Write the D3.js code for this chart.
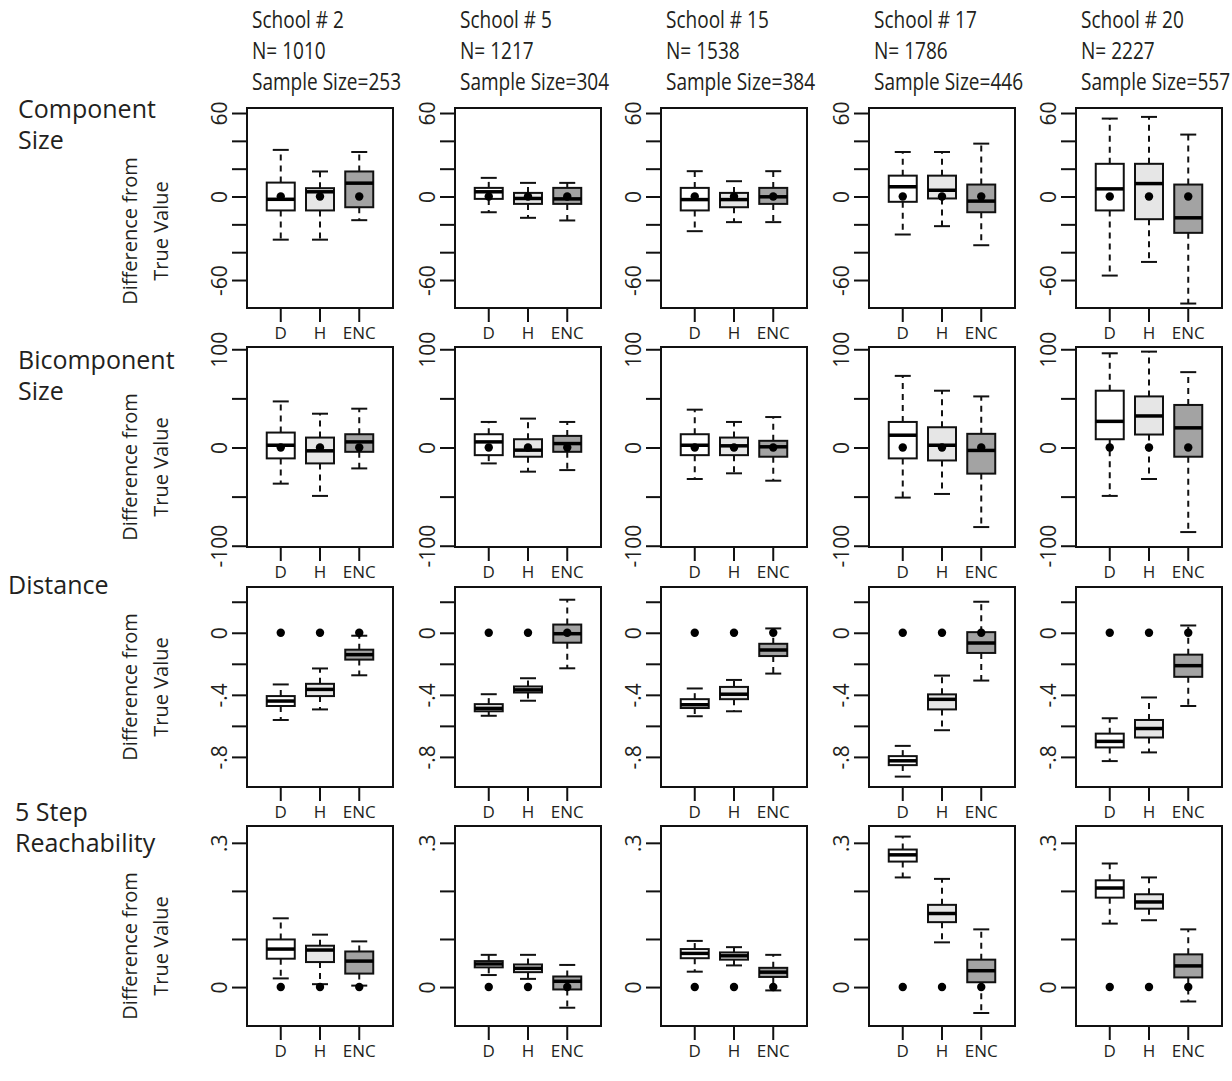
<!DOCTYPE html>
<html lang="en">
  <head>
    <script src="https://d3js.org/d3.v7.min.js"></script>
    <style>
      body { margin: 0; background: #fff; }
      .hdr { font-family: "Open Sans", sans-serif; font-size: 23.5px; fill: #231f20; }
      .rowlab { font-family: "Open Sans", sans-serif; font-size: 25px; fill: #231f20; }
      .ytitle { font-family: "Open Sans", sans-serif; font-size: 20px; fill: #231f20; }
      .xlab { font-family: "Open Sans", sans-serif; font-size: 17px; fill: #231f20; }
    </style>
  </head>
  <body>
    <svg width="1232" height="1081"></svg>
    <script>
      // column headers
      var schools = ["School # 2", "School # 5", "School # 15", "School # 17", "School # 20"];
      var popN = [1010, 1217, 1538, 1786, 2227];
      var sampleSizes = [253, 304, 384, 446, 557];
      var methods = ["D", "H", "ENC"];
      var rowLabels = [["Component", "Size"], ["Bicomponent", "Size"], ["Distance"], ["5 Step", "Reachability"]];

      // box stats per school, per method: [low whisker, q1, median, q3, high whisker]
      var compSize = [
        [[-31, -10, -2, 10, 33.5], [-31, -10, 3.4, 6, 18], [-17, -7.7, 9.6, 18, 32]],
        [[-11.3, -1.7, 3.4, 6.2, 13.4], [-15.3, -5.3, -1.4, 2.6, 9.8], [-17.2, -5.3, -1.7, 6.2, 9.8]],
        [[-24.9, -10, -2.2, 6.2, 18.2], [-18.4, -7.7, -2.2, 2.6, 11], [-18.4, -5.3, -0.2, 6.2, 18.2]],
        [[-27.3, -3.8, 7, 15, 32], [-21.3, -1.4, 4.5, 15, 32], [-35, -11.3, -3.3, 8.6, 38]],
        [[-56.8, -10, 5.5, 23.5, 56], [-47, -16.3, 9.3, 23.5, 57.2], [-76.9, -26.1, -15.3, 8.6, 44.5]]
      ];
      var bicompSize = [
        [[-36.8, -11.1, 2.3, 15.2, 46.9], [-49.3, -16.2, -3.4, 10.1, 34.4], [-21.3, -4.4, 5.7, 13.5, 39.5]],
        [[-16.2, -7.8, 5.7, 13.5, 26], [-24.6, -9.4, -2.7, 8.4, 29.4], [-23, -4.4, 4, 11.8, 26]],
        [[-32.1, -7.8, 2.3, 13.5, 38.5], [-26.3, -7.8, 1.7, 10.1, 26], [-33.8, -9.4, 0.7, 6.8, 31]],
        [[-51, -11.1, 12.5, 26, 72.9], [-47.3, -13.2, 2.3, 20.6, 57.8], [-81, -26.6, -3, 13.9, 52]],
        [[-49.3, 8.4, 26.6, 57.8, 95.9], [-32.1, 13.2, 32.1, 52, 97.6], [-86.1, -9.4, 20, 43.3, 76.7]]
      ];
      var distance = [
        [[-0.562, -0.472, -0.44, -0.408, -0.333], [-0.494, -0.408, -0.365, -0.329, -0.23], [-0.274, -0.173, -0.141, -0.109, -0.019]],
        [[-0.535, -0.506, -0.487, -0.46, -0.396], [-0.438, -0.385, -0.368, -0.346, -0.293], [-0.229, -0.064, -0.006, 0.053, 0.213]],
        [[-0.538, -0.485, -0.464, -0.428, -0.359], [-0.506, -0.428, -0.396, -0.349, -0.304], [-0.263, -0.15, -0.111, -0.071, 0.028]],
        [[-0.927, -0.853, -0.825, -0.795, -0.729], [-0.628, -0.494, -0.429, -0.397, -0.276], [-0.308, -0.13, -0.066, 0.004, 0.2]],
        [[-0.827, -0.739, -0.7, -0.65, -0.551], [-0.771, -0.675, -0.617, -0.562, -0.417], [-0.472, -0.284, -0.212, -0.141, 0.047]]
      ];
      var reach = [
        [[0.018, 0.059, 0.079, 0.099, 0.143], [0.006, 0.052, 0.077, 0.086, 0.109], [0.003, 0.028, 0.054, 0.074, 0.095]],
        [[0.025, 0.041, 0.048, 0.054, 0.067], [0.017, 0.031, 0.039, 0.047, 0.067], [-0.043, -0.005, 0.012, 0.022, 0.046]],
        [[0.032, 0.06, 0.07, 0.079, 0.096], [0.045, 0.057, 0.065, 0.072, 0.083], [-0.007, 0.021, 0.031, 0.04, 0.067]],
        [[0.228, 0.261, 0.275, 0.286, 0.313], [0.093, 0.135, 0.153, 0.171, 0.225], [-0.054, 0.01, 0.034, 0.057, 0.12]],
        [[0.132, 0.186, 0.206, 0.222, 0.257], [0.139, 0.163, 0.177, 0.193, 0.228], [-0.03, 0.02, 0.044, 0.068, 0.12]]
      ];
      // true value marker (difference of the truth from itself)
      var truth = [0, 0, 0, 0];

      // axis ticks, and which of them get a label
      var yTicks = [[-60, -40, -20, 0, 20, 40, 60], [-100, -50, 0, 50, 100], [-0.8, -0.6, -0.4, -0.2, 0, 0.2], [0, 0.1, 0.2, 0.3]];
      var yTickLabels = [
        { "60": "60", "0": "0", "-60": "-60" },
        { "100": "100", "0": "0", "-100": "-100" },
        { "0": "0", "-0.4": "-.4", "-0.8": "-.8" },
        { "0.3": ".3", "0": "0" }
      ];

      var rows = [compSize, bicompSize, distance, reach];
      var fills = { D: "#ffffff", H: "#e6e6e6", ENC: "#a3a3a3" };

      var svg = d3.select("svg");
      var panelW = 146, panelH = 200;
      var colLeft = [247, 455, 661, 869, 1076];
      var rowTop = [108, 347, 587, 826];
      var yDomains = [[-80.1, 63.6], [-101.3, 102.3], [-0.994, 0.295], [-0.081, 0.335]];
      var ytitleShift = [23, 20, 0, 20];

      var x = d3.scalePoint().domain(methods).range([0, panelW]).padding(0.86);
      var boxW = 28, capW = 16;

      //column headers, squeezed to look like a condensed face
      schools.forEach(function (s, c) {
        var hg = svg.append("g").attr("transform", "translate(" + (colLeft[c] + 5) + ",0) scale(0.81,1)");
        hg.append("text").attr("class", "hdr").attr("y", 28).text(s);
        hg.append("text").attr("class", "hdr").attr("y", 59).text("N= " + popN[c]);
        hg.append("text").attr("class", "hdr").attr("y", 90).text("Sample Size=" + sampleSizes[c]);
      });

      //row labels
      var rowLabX = [18, 18, 8, 15];
      var rowLabY = [118, 369, 594, 821];
      rowLabels.forEach(function (lines, r) {
        lines.forEach(function (l, i) {
          svg.append("text").attr("class", "rowlab")
            .attr("x", rowLabX[r]).attr("y", rowLabY[r] + i * 31).text(l);
        });
      });

      rows.forEach(function (rowData, r) {
        var y = d3.scaleLinear().domain(yDomains[r]).range([rowTop[r] + panelH, rowTop[r]]);

        //y axis title, first column only
        var cy = rowTop[r] + panelH / 2 + ytitleShift[r];
        ["Difference from", "True Value"].forEach(function (l, i) {
          svg.append("text").attr("class", "ytitle")
            .attr("transform", "translate(" + (137 + i * 31) + "," + cy + ") rotate(-90)")
            .attr("text-anchor", "middle").text(l);
        });

        rowData.forEach(function (school, c) {
          var g = svg.append("g").attr("transform", "translate(" + colLeft[c] + ",0)");

          //left axis with rotated labels
          var ax = g.append("g")
            .attr("font-family", "Open Sans, sans-serif")
            .attr("font-size", 21)
            .call(
              d3.axisLeft(y).tickValues(yTicks[r]).tickSize(15).tickPadding(5)
                .tickFormat(function (d) { return yTickLabels[r][String(+d.toFixed(2))] || ""; })
            );
          ax.attr("font-size", 21).attr("font-family", "Open Sans, sans-serif");
          ax.select(".domain").remove();
          ax.selectAll(".tick line").attr("stroke", "#111").attr("stroke-width", 2);
          ax.selectAll(".tick text")
            .attr("x", null).attr("dy", null)
            .attr("fill", "#231f20")
            .style("font-size", "21px")
            .attr("text-anchor", "middle")
            .attr("transform", "translate(-20,0) rotate(-90)");

          //bottom ticks and labels
          var bottom = rowTop[r] + panelH;
          g.selectAll(".xt").data(methods).enter().append("line")
            .attr("x1", function (d) { return x(d); }).attr("x2", function (d) { return x(d); })
            .attr("y1", bottom).attr("y2", bottom + 14)
            .attr("stroke", "#111").attr("stroke-width", 2);
          g.selectAll(".xlab").data(methods).enter().append("text")
            .attr("class", "xlab").attr("text-anchor", "middle")
            .attr("x", function (d) { return x(d); }).attr("y", bottom + 31)
            .text(function (d) { return d; });

          //boxes
          var b = g.selectAll(".box").data(school).enter().append("g");
          var xm = function (d, i) { return x(methods[i]); };
          b.append("line") //upper whisker
            .attr("x1", xm).attr("x2", xm)
            .attr("y1", function (d) { return y(d[3]); }).attr("y2", function (d) { return y(d[4]); })
            .attr("stroke", "#111").attr("stroke-width", 2).attr("stroke-dasharray", "6,5");
          b.append("line") //lower whisker
            .attr("x1", xm).attr("x2", xm)
            .attr("y1", function (d) { return y(d[1]); }).attr("y2", function (d) { return y(d[0]); })
            .attr("stroke", "#111").attr("stroke-width", 2).attr("stroke-dasharray", "6,5");
          [0, 4].forEach(function (k) {
            b.append("line")
              .attr("x1", function (d, i) { return xm(d, i) - capW / 2; })
              .attr("x2", function (d, i) { return xm(d, i) + capW / 2; })
              .attr("y1", function (d) { return y(d[k]); }).attr("y2", function (d) { return y(d[k]); })
              .attr("stroke", "#111").attr("stroke-width", 2);
          });
          b.append("rect")
            .attr("x", function (d, i) { return xm(d, i) - boxW / 2; })
            .attr("y", function (d) { return y(d[3]); })
            .attr("width", boxW)
            .attr("height", function (d) { return y(d[1]) - y(d[3]); })
            .attr("fill", function (d, i) { return fills[methods[i]]; })
            .attr("stroke", "#111").attr("stroke-width", 2);
          b.append("line")
            .attr("x1", function (d, i) { return xm(d, i) - boxW / 2; })
            .attr("x2", function (d, i) { return xm(d, i) + boxW / 2; })
            .attr("y1", function (d) { return y(d[2]); }).attr("y2", function (d) { return y(d[2]); })
            .attr("stroke", "#000").attr("stroke-width", 3.5);
          b.append("circle")
            .attr("cx", xm).attr("cy", y(truth[r])).attr("r", 4.2).attr("fill", "#000");

          //panel frame
          g.append("rect").attr("x", 0).attr("y", rowTop[r])
            .attr("width", panelW).attr("height", panelH)
            .attr("fill", "none").attr("stroke", "#111").attr("stroke-width", 2);
        });
      });
    </script>
  </body>
</html>
